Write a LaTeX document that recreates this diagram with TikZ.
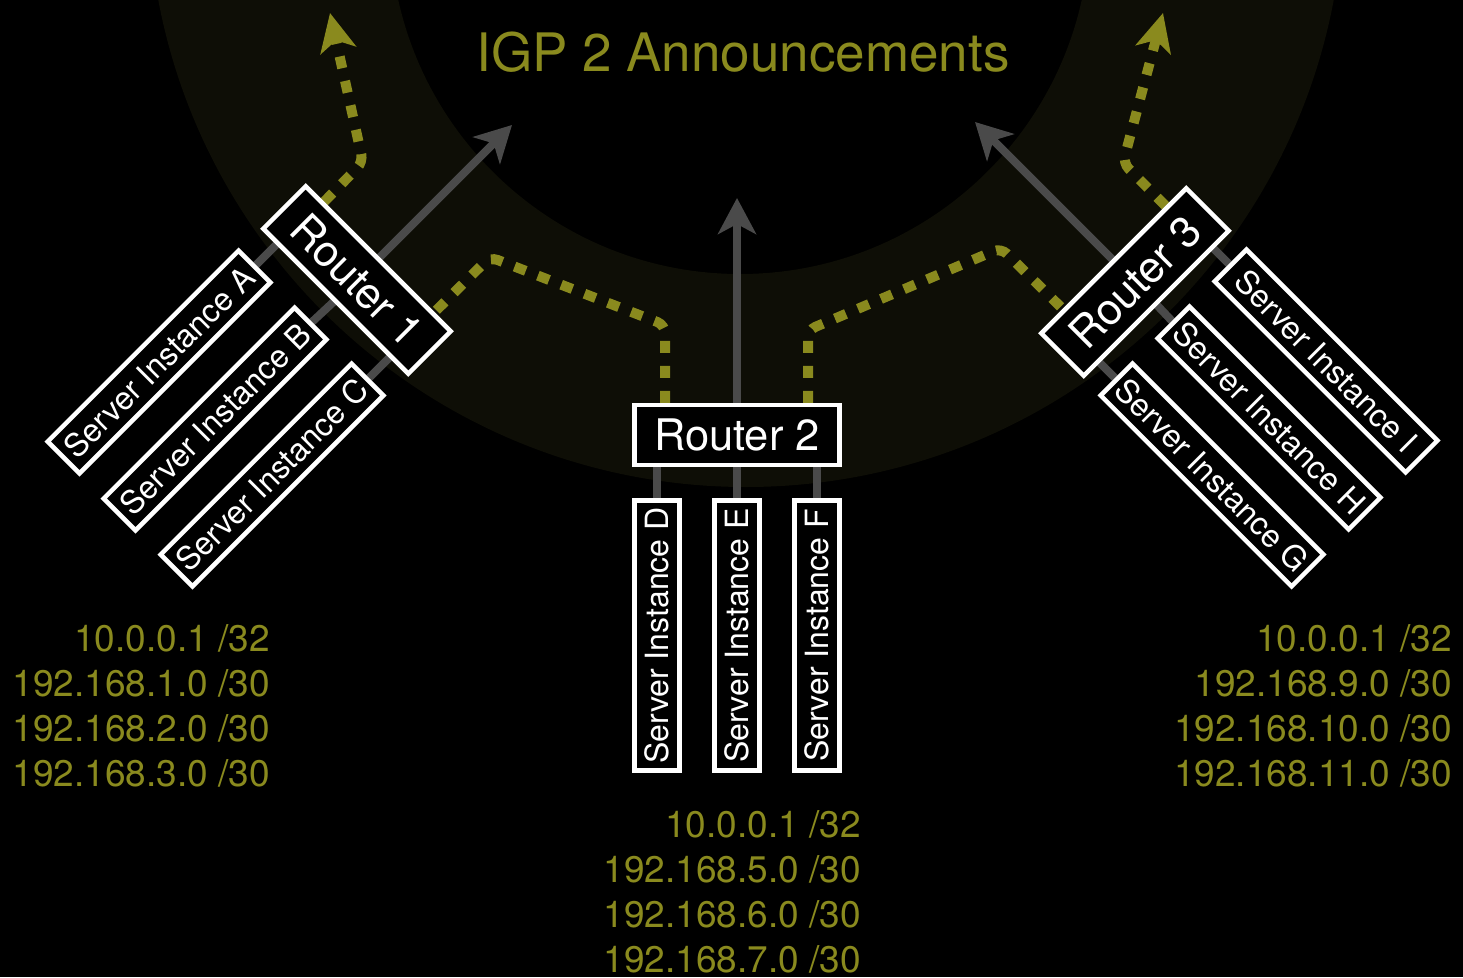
\documentclass[tikz,border=0pt]{standalone}
\usepackage{fontspec}
\setmainfont{TeX Gyre Heros}
\usetikzlibrary{arrows.meta,calc}
\definecolor{igpolive}{RGB}{138,138,30}
\definecolor{ringcol}{RGB}{14,14,6}
\definecolor{linegray}{RGB}{74,74,74}
\pgfdeclarelayer{bg}
\pgfsetlayers{bg,main}
\begin{document}
\begin{tikzpicture}[x=1pt,y=-1pt,
  router/.style={draw=white, line width=4.5pt, fill=black, text=white,
    minimum width=205pt, minimum height=60pt, inner sep=0pt,
    font=\fontsize{43.5}{48}\selectfont},
  server/.style={draw=white, line width=4.5pt, fill=black, text=white,
    minimum width=270pt, minimum height=45pt, inner sep=0pt,
    font=\fontsize{32}{36}\selectfont},
  iplabel/.style={text=igpolive, font=\fontsize{37}{42}\selectfont,
    anchor=base east, inner sep=0pt},
  conn/.style={draw=linegray, line width=8pt},
  garrow/.style={conn, -{Stealth[length=36pt,width=38pt,inset=10pt]}},
  ann/.style={draw=igpolive, line width=10pt, dash pattern=on 12pt off 13pt,
    rounded corners=8pt},
  anntip/.style={ann, -{Stealth[length=38pt,width=36pt,inset=10pt]}}
]
\useasboundingbox (0,0) rectangle (1463,977);

% title
\node[text=igpolive, font=\fontsize{53}{60}\selectfont, anchor=base, inner sep=0pt]
  (title) at (743,71) {IGP 2 Announcements};

% routers
\node[router] (R2) at (737,435) {Router 2};
\node[router, rotate=-45] (R1) at (357,280) {Router 1};
\node[router, rotate=45] (R3) at (1135,282) {Router 3};

% servers
\node[server, rotate=45] (A) at (159,362) {Server Instance A};
\node[server, rotate=45] (B) at (215,419) {Server Instance B};
\node[server, rotate=45] (C) at (272,475) {Server Instance C};
\node[server, rotate=90] (D) at (657,635.5) {Server Instance D};
\node[server, rotate=90] (E) at (737,635.5) {Server Instance E};
\node[server, rotate=90] (F) at (817,635.5) {Server Instance F};
\node[server, rotate=-45] (G) at (1212,475) {Server Instance G};
\node[server, rotate=-45] (H) at (1269,418) {Server Instance H};
\node[server, rotate=-45] (I) at (1326,361) {Server Instance I};

% address labels
\node[iplabel] (l1) at (270,651) {10.0.0.1 /32};
\node[iplabel] (l2) at (270,696) {192.168.1.0 /30};
\node[iplabel] (l3) at (270,741) {192.168.2.0 /30};
\node[iplabel] (l4) at (270,786) {192.168.3.0 /30};
\node[iplabel] (m1) at (861,837) {10.0.0.1 /32};
\node[iplabel] (m2) at (861,882) {192.168.5.0 /30};
\node[iplabel] (m3) at (861,927) {192.168.6.0 /30};
\node[iplabel] (m4) at (861,972) {192.168.7.0 /30};
\node[iplabel] (r1) at (1452,651) {10.0.0.1 /32};
\node[iplabel] (r2) at (1452,696) {192.168.9.0 /30};
\node[iplabel] (r3) at (1452,741) {192.168.10.0 /30};
\node[iplabel] (r4) at (1452,786) {192.168.11.0 /30};

% free ends
\coordinate (t1) at (512,125);
\coordinate (t2) at (737,198);
\coordinate (t3) at (975,122);
\coordinate (d1) at (330,13);
\coordinate (d3) at (1163,13);

\begin{pgfonlayer}{bg}
  \fill[black] (0,0) rectangle (1463,977);
  \begin{scope}
    \clip (0,0) rectangle (1463,977);
    \fill[ringcol, even odd rule] (746,-111) circle [radius=598pt]
                                  (740,-76) circle [radius=350pt];
  \end{scope}
  % server links
  \draw[conn] (A.east) -- ++(40,-40);
  \draw[conn] (B.east) -- (R1.center);
  \draw[conn] (C.east) -- ++(40,-40);
  \draw[conn] (D.east) -- ++(0,-40);
  \draw[conn] (E.east) -- (R2.center);
  \draw[conn] (F.east) -- ++(0,-40);
  \draw[conn] (G.west) -- ++(-40,-40);
  \draw[conn] (H.west) -- (R3.center);
  \draw[conn] (I.west) -- ++(-40,-40);
  % uplinks
  \draw[garrow] (R1.north) -- (t1);
  \draw[garrow] (R2.north) -- (t2);
  \draw[garrow] (R3.north) -- (t3);
  % announcements
  \draw[anntip] ($(R1.north)!0.75!(R1.north west)$) -- (363,162) -- (d1);
  \draw[ann] ([xshift=-72pt]R2.north) -- (665,325) -- (490,257)
             -- ($(R1.north)!0.74!(R1.north east)$);
  \draw[ann] ([xshift=71pt]R2.north) -- (808,330) -- (1001,248)
             -- ($(R3.north)!0.67!(R3.north west)$);
  \draw[anntip] ($(R3.north)!0.72!(R3.north east)$) -- (1123,163) -- (d3);
\end{pgfonlayer}
\end{tikzpicture}
\end{document}
